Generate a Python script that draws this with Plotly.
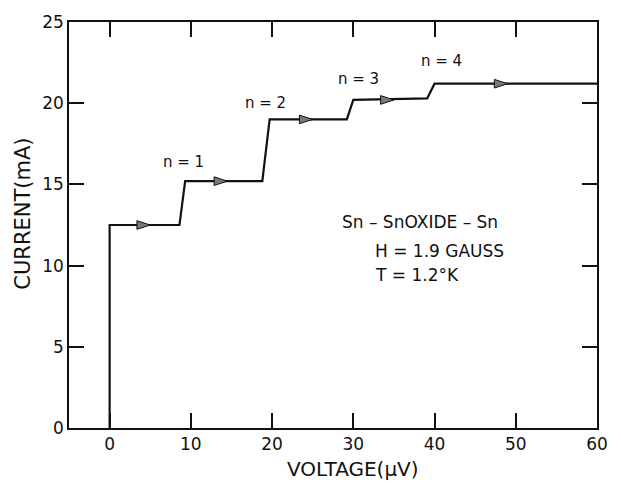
import plotly.graph_objects as go

# I-V step curve (voltage in µV, current in mA)
voltage = [0, 0, 8.6, 9.3, 18.8, 19.7, 29.2, 30.0, 39.1, 40.0, 60]
current = [0, 12.5, 12.5, 15.2, 15.2, 19.0, 19.0, 20.2, 20.3, 21.2, 21.2]

# direction arrows on the plateaus
arrow_v = [5, 14.5, 25, 35, 49]
arrow_i = [12.5, 15.2, 19.0, 20.2, 21.2]

# step labels
step_labels = ["n = 1", "n = 2", "n = 3", "n = 4"]
step_label_v = [9.1, 19.2, 30.6, 40.8]
step_label_i = [16.4, 20.0, 21.5, 22.6]

x_ticks = [0, 10, 20, 30, 40, 50, 60]
y_ticks = [0, 5, 10, 15, 20, 25]

info_lines = ["Sn – SnOXIDE – Sn", "H = 1.9 GAUSS", "T = 1.2°K"]
info_v = [28.3, 32.4, 32.4]
info_i = [12.7, 10.9, 9.4]

FONT = "DejaVu Sans"
INK = "#111111"

fig = go.Figure()
fig.add_trace(go.Scatter(x=voltage, y=current, mode="lines",
                         line=dict(color=INK, width=2.2), showlegend=False,
                         hoverinfo="skip"))
fig.add_trace(go.Scatter(x=arrow_v, y=arrow_i, mode="markers",
                         marker=dict(symbol="arrow", angle=90, size=14,
                                     color="#7a7a7a",
                                     line=dict(color=INK, width=1)),
                         showlegend=False, hoverinfo="skip"))

for t, xv, yv in zip(step_labels, step_label_v, step_label_i):
    fig.add_annotation(x=xv, y=yv, text=t, showarrow=False,
                       font=dict(family=FONT, size=15, color=INK))

for t, xv, yv in zip(info_lines, info_v, info_i):
    fig.add_annotation(x=xv, y=yv, text=t, showarrow=False, xanchor="left",
                       font=dict(family=FONT, size=17, color=INK))

# axis titles placed as annotations to match the reference positions
fig.add_annotation(x=-0.087, y=13.2, xref="paper", yref="y",
                   xanchor="center", yanchor="middle",
                   text="CURRENT(mA)", textangle=-90, showarrow=False,
                   font=dict(family=FONT, size=21, color=INK))
fig.add_annotation(x=29.9, y=-0.1, xref="x", yref="paper",
                   xanchor="center", yanchor="middle",
                   text="VOLTAGE(μV)", showarrow=False,
                   font=dict(family=FONT, size=20, color=INK))

axis_common = dict(showgrid=False, zeroline=False, showline=True,
                   linecolor=INK, linewidth=1.5, mirror="ticks",
                   ticks="inside", ticklen=15, tickwidth=1.5, tickcolor=INK,
                   tickfont=dict(family=FONT, size=17, color=INK))

fig.update_xaxes(range=[-5, 60], tickvals=x_ticks, **axis_common)
fig.update_yaxes(range=[0, 25], tickvals=y_ticks, **axis_common)

fig.update_layout(width=621, height=496,
                  margin=dict(l=69, r=24, t=15, b=68),
                  paper_bgcolor="white", plot_bgcolor="white")

fig.write_html("out.html")
